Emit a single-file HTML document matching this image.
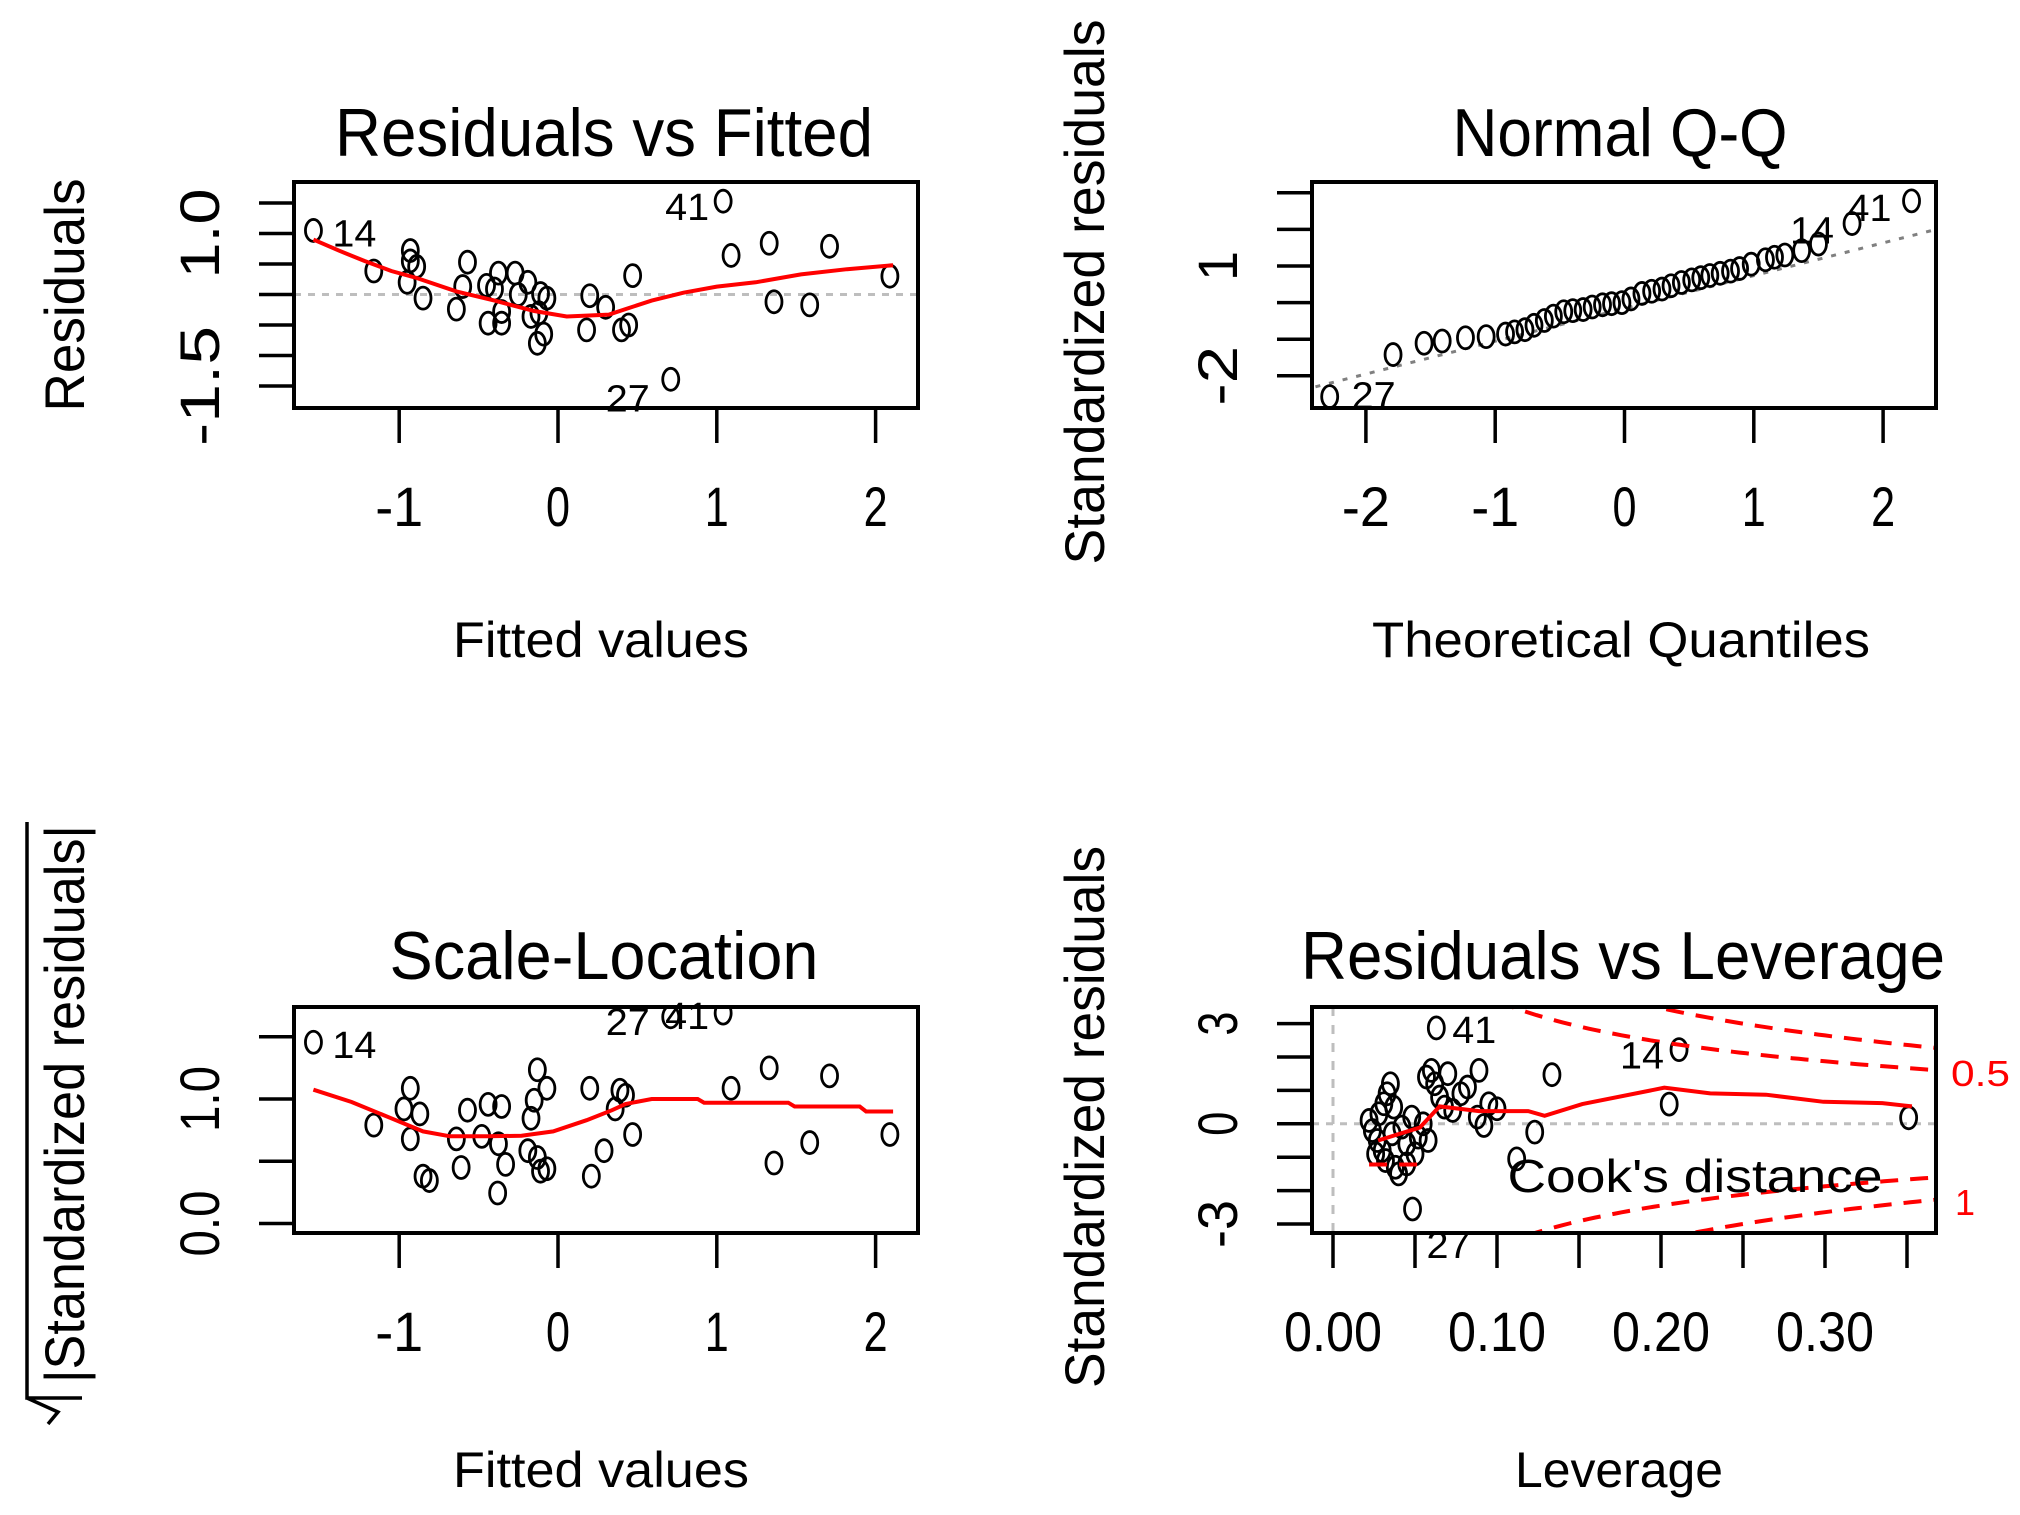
<!DOCTYPE html>
<html><head><meta charset="utf-8"><style>
html,body{margin:0;padding:0;background:#fff;}
svg{display:block;font-family:"Liberation Sans",Arial,sans-serif;}
</style></head><body>
<svg id="fig" width="2020" height="1515" viewBox="0 0 2020 1515">
<rect x="0" y="0" width="2020" height="1515" fill="#fff"/>
<!-- Titles -->
<text x="604" y="156" font-size="68" text-anchor="middle" textLength="538" lengthAdjust="spacingAndGlyphs">Residuals vs Fitted</text>
<text x="1620" y="156" font-size="68" text-anchor="middle" textLength="335" lengthAdjust="spacingAndGlyphs">Normal Q-Q</text>
<text x="604" y="979" font-size="68" text-anchor="middle" textLength="429" lengthAdjust="spacingAndGlyphs">Scale-Location</text>
<text x="1623" y="979" font-size="68" text-anchor="middle" textLength="644" lengthAdjust="spacingAndGlyphs">Residuals vs Leverage</text>
<!-- X axis titles -->
<text x="601" y="657" font-size="50" text-anchor="middle" textLength="296" lengthAdjust="spacingAndGlyphs">Fitted values</text>
<text x="1621" y="657" font-size="50" text-anchor="middle" textLength="498" lengthAdjust="spacingAndGlyphs">Theoretical Quantiles</text>
<text x="601" y="1487" font-size="50" text-anchor="middle" textLength="296" lengthAdjust="spacingAndGlyphs">Fitted values</text>
<text x="1619" y="1487" font-size="50" text-anchor="middle" textLength="208" lengthAdjust="spacingAndGlyphs">Leverage</text>
<!-- Y axis titles -->
<text transform="translate(84,295) rotate(-90)" font-size="56" text-anchor="middle" textLength="233" lengthAdjust="spacingAndGlyphs">Residuals</text>
<text transform="translate(1104,292) rotate(-90)" font-size="56" text-anchor="middle" textLength="545" lengthAdjust="spacingAndGlyphs">Standardized residuals</text>
<text transform="translate(84,1104) rotate(-90)" font-size="56" text-anchor="middle" textLength="558" lengthAdjust="spacingAndGlyphs">|Standardized residuals|</text>
<path d="M27 822 V1398 H82 M27 1398 L58 1412 L48 1424" fill="none" stroke="#000" stroke-width="3.5"/>
<text transform="translate(1104,1117) rotate(-90)" font-size="56" text-anchor="middle" textLength="542" lengthAdjust="spacingAndGlyphs">Standardized residuals</text>
<g id="plots"></g>
</svg>
<script>
// ---------- DATA ----------
// Panel 1: Residuals vs Fitted
const p1Fitted = [-1.54,-1.16,-0.93,-0.89,-0.95,-0.85,-0.57,-0.60,-0.64,-0.375,-0.27,-0.40,-0.355,-0.44,-0.355,-0.19,-0.11,-0.07,-0.17,-0.09,-0.13,0.20,0.30,0.18,0.40,0.445,0.47,0.71,1.04,1.09,1.33,1.36,1.585,1.71,2.09,-0.93,-0.45,-0.25,-0.12];
const p1Resid  = [1.05,0.385,0.72,0.46,0.20,-0.06,0.53,0.13,-0.24,0.35,0.35,0.09,-0.28,-0.47,-0.47,0.20,0.015,-0.06,-0.36,-0.65,-0.80,-0.02,-0.21,-0.58,-0.58,-0.50,0.31,-1.39,1.53,0.64,0.84,-0.12,-0.17,0.79,0.30,0.55,0.15,0.0,-0.30];
const p1SmoothX = [-1.54,-1.38,-1.22,-1.05,-0.89,-0.64,-0.40,-0.15,0.055,0.32,0.425,0.59,0.79,1.0,1.245,1.53,1.82,2.11];
const p1SmoothY = [0.90,0.72,0.55,0.385,0.27,0.05,-0.10,-0.27,-0.36,-0.33,-0.24,-0.10,0.03,0.13,0.20,0.33,0.415,0.48];
const p1XTicks = [-1,0,1,2];
const p1YTicks = [-1.5,-1,-0.5,0,0.5,1,1.5];
const p1YLabels = ["-1.5","1.0"];
const p1YLabelVals = [-1.5,1.0];
const p1IdLabels = ["14","41","27"];
const p1IdX = [-1.54,1.04,0.71];
const p1IdY = [1.05,1.53,-1.39];

// Panel 2: Normal Q-Q
const p2Theo = [-2.28,-1.79,-1.55,-1.41,-1.23,-1.07,-0.92,-0.85,-0.77,-0.70,-0.62,-0.55,-0.47,-0.40,-0.32,-0.25,-0.17,-0.10,-0.02,0.05,0.135,0.21,0.29,0.36,0.44,0.52,0.59,0.66,0.74,0.82,0.89,0.98,1.09,1.16,1.24,1.37,1.50,1.76,2.22];
const p2Std  = [-2.57,-1.42,-1.11,-1.05,-0.96,-0.93,-0.86,-0.80,-0.74,-0.62,-0.49,-0.37,-0.25,-0.22,-0.19,-0.12,-0.06,-0.03,0.0,0.10,0.25,0.31,0.37,0.46,0.55,0.62,0.68,0.74,0.80,0.86,0.93,1.05,1.17,1.24,1.30,1.42,1.60,2.16,2.78];
const p2LineX = [-2.6,2.6];
const p2LineY = [-2.49,2.17];
const p2XTicks = [-2,-1,0,1,2];
const p2YTicks = [-2,-1,0,1,2,3];
const p2YLabels = ["-2","1"];
const p2YLabelVals = [-2,1];
const p2IdLabels = ["41","14","27"];
const p2IdX = [2.22,1.76,-2.28];
const p2IdY = [2.78,2.16,-2.57];

// Panel 3: Scale-Location
const p3Fitted = [-1.54,-1.16,-0.93,-0.97,-0.87,-0.93,-0.85,-0.81,-0.61,-0.57,-0.44,-0.355,-0.48,-0.375,-0.33,-0.38,-0.64,-0.19,-0.17,-0.13,-0.07,-0.15,-0.11,-0.07,-0.13,0.20,0.39,0.425,0.36,0.47,0.29,0.21,0.71,1.04,1.09,1.33,1.36,1.585,1.71,2.09];
const p3Sqrt   = [1.456,0.79,1.086,0.92,0.88,0.68,0.38,0.345,0.45,0.91,0.957,0.94,0.70,0.64,0.475,0.245,0.68,0.585,0.845,1.235,1.086,0.99,0.42,0.44,0.53,1.086,1.07,1.03,0.92,0.715,0.585,0.38,1.66,1.69,1.086,1.25,0.486,0.65,1.186,0.715];
const p3SmoothX = [-1.54,-1.30,-1.05,-0.85,-0.68,-0.44,-0.23,-0.03,0.18,0.34,0.425,0.59,0.88,0.92,1.45,1.49,1.90,1.94,2.11];
const p3SmoothY = [1.075,0.976,0.845,0.74,0.70,0.70,0.705,0.74,0.83,0.91,0.96,1.00,1.00,0.97,0.97,0.94,0.94,0.90,0.90];
const p3XTicks = [-1,0,1,2];
const p3YTicks = [0,0.5,1,1.5];
const p3YLabels = ["0.0","1.0"];
const p3YLabelVals = [0,1];
const p3IdLabels = ["14","27","41"];
const p3IdX = [-1.54,0.71,1.04];
const p3IdY = [1.456,1.66,1.69];

// Panel 4: Residuals vs Leverage
const p4Lev = [0.022,0.024,0.027,0.028,0.030,0.032,0.033,0.035,0.036,0.038,0.040,0.037,0.042,0.045,0.048,0.050,0.052,0.055,0.057,0.060,0.062,0.065,0.068,0.070,0.073,0.078,0.082,0.088,0.092,0.095,0.100,0.112,0.123,0.1335,0.089,0.205,0.351,0.063,0.211,0.0485,0.058,0.045,0.026,0.031];
const p4Std = [0.10,-0.20,-0.50,0.30,-0.80,-1.10,0.90,1.20,-0.30,-1.30,-1.50,0.50,-0.10,-0.60,0.20,-0.90,-0.40,0.00,1.40,1.60,1.20,0.80,0.50,1.50,0.40,0.90,1.10,0.20,-0.05,0.60,0.45,-1.05,-0.25,1.47,1.60,0.59,0.18,2.87,2.22,-2.55,-0.50,-1.20,-0.90,0.60];
const p4SmoothX = [0.0275,0.053,0.065,0.089,0.119,0.129,0.152,0.202,0.230,0.264,0.299,0.335,0.353];
const p4SmoothY = [-0.50,-0.11,0.52,0.38,0.38,0.24,0.59,1.08,0.91,0.87,0.66,0.62,0.52];
const p4SegX = [0.022,0.055];
const p4SegY = [-1.22,-1.22];
const p4XTicks = [0,0.05,0.10,0.15,0.20,0.25,0.30,0.35];
const p4XLabels = ["0.00","0.10","0.20","0.30"];
const p4XLabelVals = [0,0.10,0.20,0.30];
const p4YTicks = [-3,-2,-1,0,1,2,3];
const p4YLabels = ["-3","0","3"];
const p4YLabelVals = [-3,0,3];
const p4CookLevels = [0.5,1];
const p4NumParams = 3;
const p4IdLabels = ["41","14","27"];
const p4IdX = [0.063,0.211,0.0485];
const p4IdY = [2.87,2.22,-2.55];

// ---------- DRAWING ----------
const NS = 'http://www.w3.org/2000/svg';
const root = document.getElementById('plots');
function mk(parent, tag, attrs){
  const e = document.createElementNS(NS, tag);
  for (const k in attrs) e.setAttribute(k, attrs[k]);
  parent.appendChild(e);
  return e;
}
function polyPath(xs, ys, sx, sy){
  return xs.map((v,i)=>(i?'L':'M')+sx(v).toFixed(1)+' '+sy(ys[i]).toFixed(1)).join(' ');
}

function panel(id, box, sx, sy, xTicks, xLabels, xLabelVals, yTicks, yLabels, yLabelVals, xLabW, yLabW){
  const g = mk(root, 'g', {});
  
  
  const cp = mk(g, 'clipPath', {id: id + '-clip'});
  mk(cp, 'rect', {x: box.x0, y: box.y0, width: box.x1 - box.x0, height: box.y1 - box.y0});
  const plot = mk(g, 'g', {'clip-path': 'url(#' + id + '-clip)'});
  
  
  xTicks.forEach(v => {
    const t = mk(g, 'line', {x1: sx(v), x2: sx(v), y1: box.y1, y2: box.y1 + 35, stroke: '#000', 'stroke-width': 3.5});
    
    
  });
  xLabels.forEach((s, i) => {
    const t = mk(g, 'text', {x: sx(xLabelVals[i]), y: box.y1 + 118, 'font-size': 56, 'text-anchor': 'middle', textLength: xLabW * s.length, lengthAdjust: 'spacingAndGlyphs'});
    t.textContent = s;
    
    
  });
  yTicks.forEach(v => {
    const t = mk(g, 'line', {x1: box.x0 - 35, x2: box.x0, y1: sy(v), y2: sy(v), stroke: '#000', 'stroke-width': 3.5});
    
    
  });
  yLabels.forEach((s, i) => {
    const t = mk(g, 'text', {transform: 'translate(' + (box.x0 - 75) + ',' + sy(yLabelVals[i]) + ') rotate(-90)', 'font-size': 56, 'text-anchor': 'middle', textLength: yLabW * s.length, lengthAdjust: 'spacingAndGlyphs'});
    t.textContent = s;
    
    
  });
  return {g, plot};
}
function frame(g, id, box){
  const r = mk(g, 'rect', {x: box.x0, y: box.y0, width: box.x1 - box.x0, height: box.y1 - box.y0, fill: 'none', stroke: '#000', 'stroke-width': 4});
  
  
}
function points(plot, id, xs, ys, sx, sy){
  xs.forEach((v, i) => {
    const c = mk(plot, 'ellipse', {cx: sx(v), cy: sy(ys[i]), rx: 8, ry: 11, fill: 'none', stroke: '#000', 'stroke-width': 2.8});
    
    
  });
}
function idLabels(g, id, labs, xs, ys, sx, sy, dx, dy){
  labs.forEach((s, i) => {
    const t = mk(g, 'text', {x: sx(xs[i]) + dx[i], y: sy(ys[i]) + dy[i], 'font-size': 38, textLength: 44, lengthAdjust: 'spacingAndGlyphs'});
    t.textContent = s;
    
    
  });
}
function line(plot, name, d, color, w, dash){
  const p = mk(plot, 'path', {d: d, fill: 'none', stroke: color, 'stroke-width': w});
  if (dash) p.setAttribute('stroke-dasharray', dash);
  
  
  return p;
}

// Panel 1
(function(){
  const box = {x0: 294, x1: 918, y0: 182, y1: 408};
  const sx = v => 558 + v * 158.8, sy = v => 294.5 - v * 61;
  const P = panel('p1', box, sx, sy, p1XTicks, p1XTicks.map(String), p1XTicks, p1YTicks, p1YLabels, p1YLabelVals, 24, 30);
  line(P.plot, 'p1-zero-reference-line', 'M' + box.x0 + ' ' + sy(0) + ' H' + box.x1, '#bebebe', 3, '7 7');
  points(P.plot, 'p1', p1Fitted, p1Resid, sx, sy);
  line(P.plot, 'p1-smooth-line', polyPath(p1SmoothX, p1SmoothY, sx, sy), '#ff0000', 4);
  frame(P.g, 'p1', box);
  idLabels(P.g, 'p1', p1IdLabels, p1IdX, p1IdY, sx, sy, [19,-58,-65], [16,19,32]);
})();
// Panel 2
(function(){
  const box = {x0: 1312, x1: 1936, y0: 182, y1: 408};
  const sx = v => 1624.5 + v * 129.3, sy = v => 302.6 - v * 36.6;
  const P = panel('p2', box, sx, sy, p2XTicks, p2XTicks.map(String), p2XTicks, p2YTicks, p2YLabels, p2YLabelVals, 24, 30);
  line(P.plot, 'p2-qq-reference-line', polyPath(p2LineX, p2LineY, sx, sy), '#808080', 3, '5 9');
  points(P.plot, 'p2', p2Theo, p2Std, sx, sy);
  frame(P.g, 'p2', box);
  idLabels(P.g, 'p2', p2IdLabels, p2IdX, p2IdY, sx, sy, [-64,-62,22], [20,20,12]);
})();
// Panel 3
(function(){
  const box = {x0: 294, x1: 918, y0: 1007, y1: 1233};
  const sx = v => 558 + v * 158.8, sy = v => 1223.5 - v * 124.5;
  const P = panel('p3', box, sx, sy, p3XTicks, p3XTicks.map(String), p3XTicks, p3YTicks, p3YLabels, p3YLabelVals, 24, 22);
  points(P.plot, 'p3', p3Fitted, p3Sqrt, sx, sy);
  line(P.plot, 'p3-smooth-line', polyPath(p3SmoothX, p3SmoothY, sx, sy), '#ff0000', 4);
  frame(P.g, 'p3', box);
  idLabels(P.g, 'p3', p3IdLabels, p3IdX, p3IdY, sx, sy, [19,-65,-58], [16,18,16]);
})();
// Panel 4
(function(){
  const box = {x0: 1312, x1: 1936, y0: 1007, y1: 1233};
  const sx = v => 1333 + v * 1640, sy = v => 1123.8 - v * 33.4;
  const P = panel('p4', box, sx, sy, p4XTicks, p4XLabels, p4XLabelVals, p4YTicks, p4YLabels, p4YLabelVals, 24.5, 24);
  line(P.plot, 'p4-zero-reference-line', 'M' + box.x0 + ' ' + sy(0) + ' H' + box.x1, '#bebebe', 3, '7 7');
  line(P.plot, 'p4-zero-leverage-line', 'M' + sx(0) + ' ' + box.y0 + ' V' + box.y1, '#bebebe', 3, '9 9');
  points(P.plot, 'p4', p4Lev, p4Std, sx, sy);
  line(P.plot, 'p4-smooth-line', polyPath(p4SmoothX, p4SmoothY, sx, sy), '#ff0000', 4);
  line(P.plot, 'p4-short-dashed-segment', polyPath(p4SegX, p4SegY, sx, sy), '#ff0000', 4, '18 12');
  p4CookLevels.forEach(c => {
    const hs = [];
    for (let h = 0.1; h <= 0.40; h += 0.004) hs.push(h);
    const up = hs.map(h => Math.sqrt(c * p4NumParams * (1 - h) / h));
    const dn = up.map(v => -v);
    line(P.plot, 'p4-cooks-distance-upper-' + c, polyPath(hs, up, sx, sy), '#ff0000', 4, '18 12');
    line(P.plot, 'p4-cooks-distance-lower-' + c, polyPath(hs, dn, sx, sy), '#ff0000', 4, '18 12');
  });
  frame(P.g, 'p4', box);
  idLabels(P.g, 'p4', p4IdLabels, p4IdX, p4IdY, sx, sy, [16,-59,14], [15,19,49]);
  const ct = mk(P.g, 'text', {x: 1695, y: 1192, 'font-size': 46, 'text-anchor': 'middle', textLength: 375, lengthAdjust: 'spacingAndGlyphs'});
  ct.textContent = "Cook's distance";
  
  
  const l1 = mk(P.g, 'text', {x: 1951, y: 1086, 'font-size': 36, fill: '#ff0000', textLength: 59, lengthAdjust: 'spacingAndGlyphs'});
  l1.textContent = '0.5';
  
  
  const l2 = mk(P.g, 'text', {x: 1955, y: 1215, 'font-size': 36, fill: '#ff0000'});
  l2.textContent = '1';
  
  
})();
</script>
</body></html>
